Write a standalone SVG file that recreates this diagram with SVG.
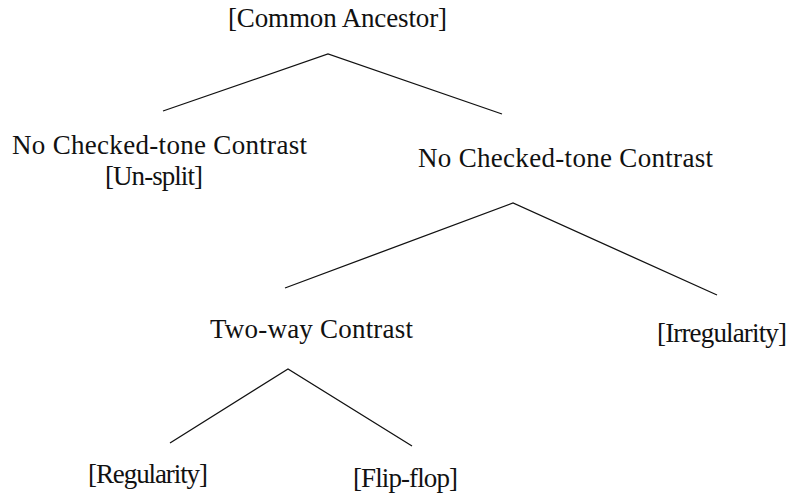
<svg xmlns="http://www.w3.org/2000/svg" width="791" height="495" viewBox="0 0 791 495">
  <style>
    .lbl { font-family: "Liberation Serif", "Times New Roman", serif; font-size: 27px; fill: #111; }
    .edge { stroke: #111; stroke-width: 1.3; fill: none; }
  </style>
  <rect width="791" height="495" fill="#ffffff"/>

  <g id="connectors">
    <polyline class="edge" points="163,111 328,54 502,114"/>
    <polyline class="edge" points="285,288 513,203 717,295"/>
    <polyline class="edge" points="170,443 288,369 412,446"/>
  </g>

  <g id="root">
    <text class="lbl" x="228" y="27" textLength="219">[Common Ancestor]</text>
  </g>
  <g id="unsplit">
    <text class="lbl" x="12" y="154" textLength="295">No Checked-tone Contrast</text>
    <text class="lbl" x="105" y="185" textLength="98">[Un-split]</text>
  </g>
  <g id="split">
    <text class="lbl" x="418" y="167" textLength="295">No Checked-tone Contrast</text>
  </g>
  <g id="two-way">
    <text class="lbl" x="210" y="338" textLength="203">Two-way Contrast</text>
  </g>
  <g id="irregularity">
    <text class="lbl" x="657" y="342" textLength="130">[Irregularity]</text>
  </g>
  <g id="regularity">
    <text class="lbl" x="88" y="483" textLength="120">[Regularity]</text>
  </g>
  <g id="flip-flop">
    <text class="lbl" x="353" y="487" textLength="105">[Flip-flop]</text>
  </g>
</svg>
